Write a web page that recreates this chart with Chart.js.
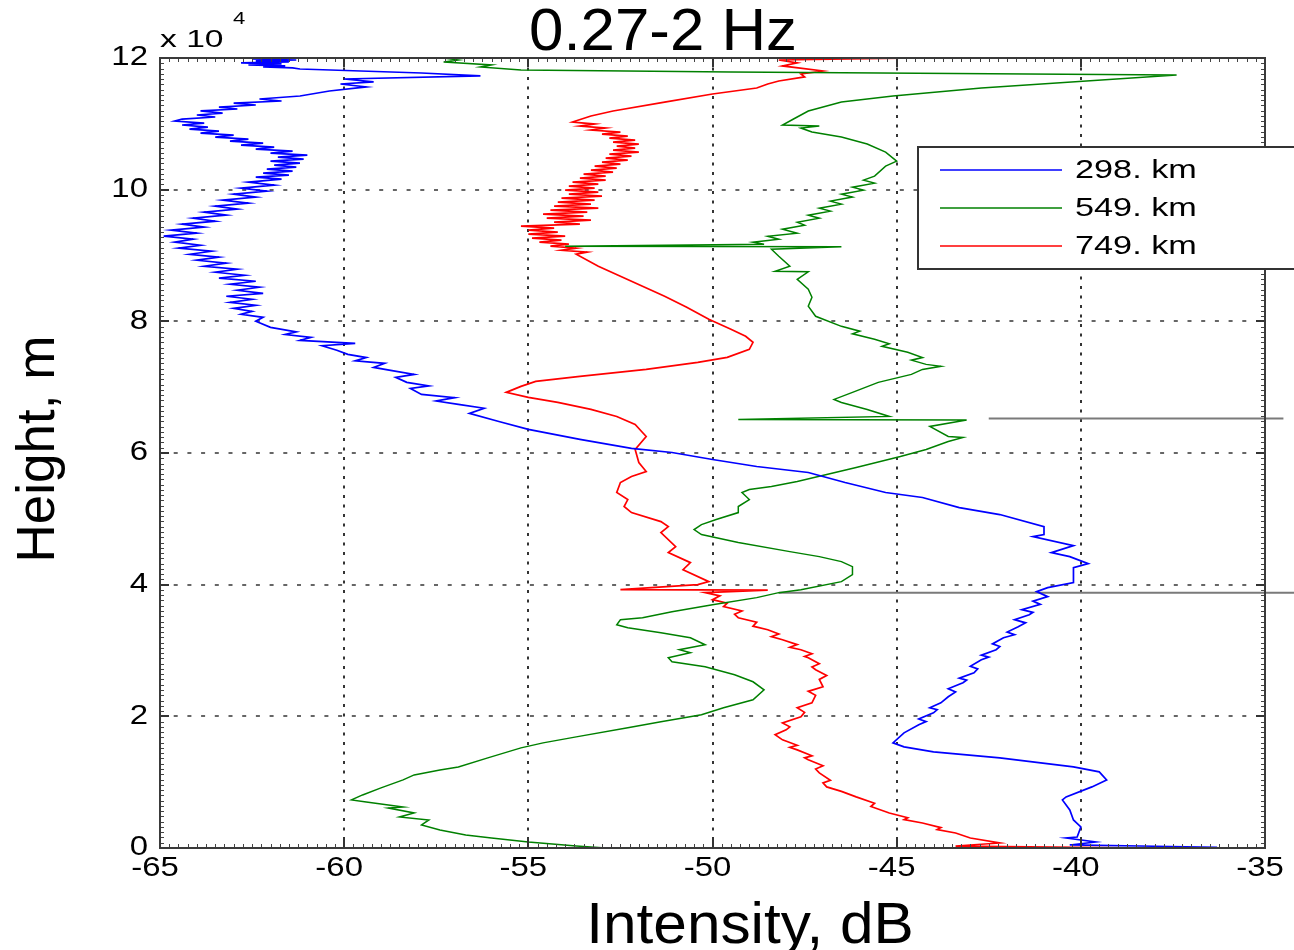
<!DOCTYPE html>
<html>
<head>
<meta charset="utf-8">
<title>0.27-2 Hz</title>
<script src="https://cdn.jsdelivr.net/npm/chart.js@4/dist/chart.umd.min.js"></script>
<style>
  html, body { margin: 0; padding: 0; background: #fff; }
</style>
</head>
<body>
<canvas id="chart" width="1294" height="950"></canvas>
<script>
const titleText = "0.27-2 Hz"
const xLabel = "Intensity, dB"
const yLabel = "Height, m"
const xTicks = [-65, -60, -55, -50, -45, -40, -35]
const yTicks = [0, 20000, 40000, 60000, 80000, 100000, 120000]
const seriesNames = ["298. km", "549. km", "749. km"]
const seriesColors = ["#0000ff", "#008000", "#ff0000"]

// [intensity dB, height m] from top to bottom
const km298 = [
  [-61.4,120000],[-62.5,119850],[-61.3,119700],[-62.4,119550],[-61.5,119400],[-62.8,119250],[-61.7,119100],
  [-62.6,118940],[-61.6,118790],[-62.2,118640],[-61.4,118490],[-61.2,118330],
  [-57.9,117720],[-56.3,117270],[-60.0,116810],[-59.2,116360],[-60.1,116050],[-59.4,115600],[-60.4,114990],
  [-61.2,114230],[-62.3,113770],[-61.7,113470],[-63.0,113160],[-62.4,112860],[-63.4,112550],[-62.9,112250],
  [-63.9,111960],[-63.3,111640],[-64.0,111340],[-63.5,111040],[-64.4,110730],[-64.6,110420],[-63.8,110120],
  [-64.4,109820],[-63.7,109510],[-64.2,109210],[-63.4,108900],[-63.9,108600],[-63.0,108290],[-63.5,107990],
  [-62.6,107690],[-63.1,107380],[-62.2,107080],[-62.8,106770],[-61.9,106470],[-62.4,106170],[-61.4,105860],
  [-62.0,105560],[-61.0,105250],[-61.8,104950],[-61.1,104650],[-62.0,104340],[-61.2,104040],[-61.9,103730],
  [-61.3,103430],[-62.1,103120],[-61.4,102820],[-62.2,102520],[-61.5,102210],[-62.4,101910],[-61.7,101600],
  [-62.6,101150],[-61.9,100690],[-62.8,100240],[-62.1,99780],[-63.0,99320],[-62.4,98870],[-63.3,98410],
  [-62.6,97950],[-63.5,97500],[-62.9,97040],[-63.8,96580],[-63.2,96130],[-64.1,95670],[-63.5,95210],
  [-64.4,94760],[-63.8,94300],[-64.7,93850],[-64.0,93390],[-64.9,92930],[-64.1,92480],[-64.6,92020],
  [-63.9,91560],[-64.5,91110],[-63.6,90650],[-64.2,90190],[-63.4,89740],[-64.0,89280],[-63.2,88830],
  [-63.8,88370],[-62.9,87910],[-63.5,87460],[-62.7,87000],[-63.4,86550],[-62.4,86090],[-63.1,85630],
  [-62.3,85180],[-62.9,84720],[-62.2,84260],[-63.2,83810],[-62.5,83350],[-63.1,82890],[-62.4,82440],
  [-63.0,81980],[-62.5,81520],[-62.8,81070],[-62.2,80610],[-62.4,80010],
  [-62.0,79090],[-61.3,78400],[-61.6,78000],[-60.9,77570],[-61.2,77100],[-59.7,76660],[-60.6,76300],
  [-60.2,75600],[-59.9,74990],[-59.4,74500],[-59.7,74000],[-58.9,73620],[-59.2,73000],[-58.7,72500],
  [-58.1,71940],[-58.6,71500],[-58.3,70730],[-57.7,70200],[-58.2,69800],[-57.9,68900],[-57.0,68400],
  [-57.5,67900],[-56.9,67380],[-56.2,66800],[-56.6,66010],[-55.8,64790],[-55.0,63580],[-53.6,62060],
  [-52.2,60690],[-51.1,60080],
  [-50.0,59010],[-48.8,57950],[-47.4,57040],[-46.4,55520],[-45.3,54000],[-44.3,53240],[-43.3,51710],
  [-42.2,50650],[-41.0,48820],[-41.0,47610],[-41.3,47300],[-40.2,45930],[-40.8,44870],[-40.3,44260],
  [-39.8,43200],[-40.2,42590],[-40.2,41220],[-40.2,40310],[-40.9,39550],[-41.2,38940],[-40.9,38180],
  [-41.3,37500],[-41.1,37000],[-41.6,36200],[-41.3,35800],[-41.4,35440],[-41.8,34680],[-41.5,34200],
  [-41.7,33610],[-42.0,32800],[-41.8,32400],[-42.1,31940],[-42.4,31000],[-42.2,30600],[-42.3,30120],
  [-42.7,29300],[-42.5,29000],[-42.7,28590],[-43.0,27600],[-42.8,27200],[-42.9,26620],[-43.3,25800],
  [-43.1,25500],[-43.2,25100],[-43.6,24200],[-43.4,23700],[-43.6,22970],[-43.8,22050],[-44.1,21300],
  [-43.9,21000],[-44.0,20530],[-44.4,19600],[-44.2,19200],[-44.4,18710],[-44.8,17490],
  [-45.1,15970],[-44.8,15360],[-44.0,14600],[-42.2,13690],[-40.2,12320],[-39.5,11560],[-39.3,10340],
  [-39.7,9280],[-40.4,7760],[-40.5,7300],[-40.3,5780],[-40.2,4260],[-40.0,3190],[-40.1,1670],
  [-40.4,1520],[-39.6,910],[-40.3,460],[-38.4,300],[-36.3,100]
]

const km549 = [
  [-57.3,120000],[-56.9,119700],[-57.3,119400],[-56.0,118940],[-56.3,118640],[-55.2,118180],[-49.5,117880],
  [-37.4,117420],[-42.7,115440],[-45.1,114230],[-46.5,113310],[-47.4,111950],[-47.8,110730],[-48.1,109820],
  [-47.1,109660],[-47.6,109360],[-47.3,108750],[-46.5,107990],[-45.8,106930],[-45.3,105710],[-45.0,104340],
  [-45.3,103580],[-45.6,102060],[-45.9,101450],[-45.6,100990],[-46.2,100380],[-45.9,99930],[-46.5,99320],
  [-46.2,98870],[-46.8,98260],[-46.5,97800],[-47.1,97190],[-46.8,96740],[-47.4,96130],[-47.1,95670],
  [-47.7,95060],[-47.5,94610],[-48.1,94000],[-47.7,93390],[-48.5,92930],[-48.2,92480],[-48.9,92020],
  [-48.6,91720],[-54.0,91410],[-46.5,91340],[-48.4,90960],[-48.2,89890],[-47.9,88370],[-48.3,87610],
  [-47.4,87530],[-47.7,86390],[-47.4,84870],[-47.3,83660],[-47.4,82290],[-47.2,80770],[-46.5,79240],
  [-46.0,78500],[-46.2,78100],[-45.6,77270],[-45.2,76600],[-45.4,76200],[-44.7,75290],[-44.3,74500],
  [-44.6,74100],[-44.2,73460],[-43.8,73160],[-44.3,72700],[-44.6,71940],[-45.5,70730],[-46.2,69210],
  [-46.7,68140],[-46.5,67680],[-45.8,66620],[-45.2,65550],[-49.3,65100],[-43.1,65020],[-44.1,64040],
  [-43.6,62510],[-43.2,62360],[-43.6,61750],[-44.2,60540],[-44.9,59470],[-46.1,57800],[-46.9,56730],
  [-47.7,55670],[-48.4,54910],[-49.0,54450],[-49.2,53990],[-49.0,52930],[-49.3,51870],[-49.3,50950],
  [-49.9,49890],[-50.3,49130],[-50.5,48370],[-50.3,47610],[-49.3,46390],[-47.9,45020],[-47.1,44260],
  [-46.5,43500],[-46.2,42740],[-46.2,41520],[-46.5,40460],[-47.6,39240],[-48.2,38790],[-48.8,38030],
  [-50.0,36960],[-51.1,35900],[-51.9,34980],[-52.5,34680],[-52.6,33920],[-52.3,33460],[-51.4,32700],
  [-50.6,31940],[-50.2,30880],[-50.9,30120],[-50.6,29660],[-51.2,28900],[-51.1,28290],[-50.2,27530],
  [-49.4,26310],[-48.9,25250],[-48.6,24030],[-48.9,22510],[-49.7,21290],[-50.3,20230],[-51.4,19160],
  [-52.3,18250],[-53.7,16880],[-54.6,15970],[-55.2,15210],[-56.1,13690],[-56.9,12320],[-57.4,11860],
  [-58.1,11100],[-58.4,10340],[-59.0,9130],[-59.5,8060],[-59.8,7300],[-59.4,7000],[-58.8,6540],
  [-58.4,6240],[-58.8,6080],[-58.1,5320],[-58.5,4720],[-57.7,4260],[-57.9,3500],[-57.4,2740],
  [-56.7,1980],[-56.0,1520],[-55.0,910],[-53.7,300],[-52.9,0]
]

const km749 = [
  [-44.4,120000],[-48.2,119700],[-47.7,119250],[-48.1,118790],[-47.0,118030],[-47.6,117570],[-47.5,117120],
  [-48.2,116510],[-48.5,116050],[-48.8,115440],[-50.0,114530],[-51.3,113310],[-52.7,111950],[-53.3,111190],
  [-53.8,110270],[-53.2,109970],[-53.6,109660],[-52.9,109360],[-53.3,109060],[-52.5,108750],[-53.0,108450],
  [-52.3,108140],[-52.8,107840],[-52.1,107530],[-52.7,107230],[-52.0,106930],[-52.6,106620],[-52.1,106320],
  [-52.7,106010],[-52.0,105710],[-52.8,105410],[-52.2,105100],[-52.9,104800],[-52.3,104490],[-53.0,104190],
  [-52.5,103880],[-53.2,103580],[-52.6,103280],[-53.3,102970],[-52.7,102670],[-53.5,102360],[-52.9,102060],
  [-53.6,101760],[-52.9,101450],[-53.8,101150],[-53.1,100840],[-53.9,100540],[-53.2,100230],[-54.0,99930],
  [-53.1,99630],[-53.9,99320],[-53.0,99020],[-54.1,98710],[-53.2,98410],[-54.2,98100],[-53.3,97800],
  [-54.3,97500],[-53.1,97190],[-54.4,96890],[-53.4,96580],[-54.6,96280],[-53.5,95980],[-54.5,95670],
  [-53.3,95370],[-54.3,95060],[-53.6,94760],[-55.2,94450],[-54.3,94150],[-55.0,93850],[-54.2,93540],
  [-55.0,93240],[-54.0,92930],[-54.9,92630],[-54.1,92330],[-54.7,92020],[-53.9,91720],[-54.4,91410],
  [-53.7,91110],[-54.1,90800],[-53.4,90500],[-53.7,90200],
  [-53.1,88370],[-52.5,86850],[-51.9,85330],[-51.3,83810],[-50.7,82130],[-50.1,80310],[-49.5,78790],
  [-49.1,77720],[-48.9,76810],[-49.0,75750],[-49.6,74530],[-50.4,73770],[-51.8,72700],[-53.6,71640],
  [-54.8,70880],[-55.2,70120],[-55.6,69210],[-55.0,68450],[-54.2,67680],[-53.3,66620],[-52.6,65550],
  [-52.1,64340],[-51.9,63120],[-51.8,62510],[-52.1,60540],[-52.0,58560],[-51.8,57190],[-52.2,56430],
  [-52.5,55520],[-52.6,54000],[-52.3,52930],[-52.4,51870],[-52.2,50950],[-51.4,49580],[-51.2,48820],
  [-51.4,47910],[-51.0,45780],[-51.2,44870],[-50.6,43350],[-50.8,42280],[-50.1,40460],[-50.4,40000],
  [-52.5,39240],[-48.5,39170],[-50.2,38790],[-49.8,38300],[-50.0,37720],[-49.6,37200],[-49.7,36660],
  [-49.2,36000],[-49.4,35500],[-49.3,34980],[-48.8,34300],[-48.9,33700],[-48.5,33160],[-48.2,32500],
  [-48.4,32100],[-48.1,31640],[-47.7,30900],[-47.9,30500],[-47.6,30120],[-47.3,29500],[-47.5,29100],
  [-47.4,28900],[-47.1,28000],[-47.3,27500],[-47.2,27070],[-46.9,26200],[-47.1,25600],[-47.0,24490],
  [-47.4,23800],[-47.2,23200],[-47.3,22050],[-47.7,21300],[-47.5,20600],[-47.6,19920],[-48.1,19000],
  [-47.9,18400],[-48.0,17950],[-48.3,17200],[-48.1,16430],[-47.7,15600],[-47.9,15300],[-47.7,14910],
  [-47.3,14000],[-47.5,13700],[-47.4,13390],[-47.0,12500],[-47.2,12000],[-47.1,11410],[-46.8,10300],
  [-47.0,9900],[-46.9,9280],[-46.5,8600],[-46.1,7760],[-45.6,6800],[-45.7,6300],[-45.2,5320],
  [-44.7,4600],[-44.8,4300],[-44.3,3800],[-43.8,3100],[-43.9,2800],[-43.4,2280],[-43.0,1520],
  [-42.2,760],[-43.4,300],[-38.1,0]
]

// leftovers of the neighbouring panel that overlap this one
const strayLines = [
  [[-42.5, 65250], [-34.5, 65250]],
  [[-48.2, 38790], [-34.2, 38790]]
]
const strayMarkX = -34.33
const strayMarkHeights = [60080, 53390, 48980, 42740, 36500, 32700]

function toPoints(list) {
  return list.map(p => ({ x: p[0], y: p[1] }))
}

function stretchText(ctx, text, x, y, sx, align) {
  ctx.save()
  ctx.translate(x, y)
  ctx.scale(sx, 1)
  ctx.textAlign = align
  ctx.fillText(text, 0, 0)
  ctx.restore()
}

const matlabAxes = {
  id: "matlabAxes",
  beforeDatasetsDraw(chart) {
    const { ctx, chartArea: a, scales: { x, y } } = chart
    ctx.save()
    ctx.lineWidth = 2
    ctx.strokeStyle = "#333"
    ctx.setLineDash([3, 6.5])
    xTicks.slice(1, -1).forEach(v => {
      const px = Math.round(x.getPixelForValue(v))
      ctx.beginPath()
      ctx.moveTo(px, a.top)
      ctx.lineTo(px, a.bottom)
      ctx.stroke()
    })
    ctx.strokeStyle = "#666"
    ctx.setLineDash([4, 9.7])
    yTicks.slice(1, -1).forEach(v => {
      const py = Math.round(y.getPixelForValue(v))
      ctx.beginPath()
      ctx.moveTo(a.left, py)
      ctx.lineTo(a.right, py)
      ctx.stroke()
    })
    ctx.restore()
  },
  afterDraw(chart) {
    const { ctx, chartArea: a, scales: { x, y } } = chart
    ctx.save()

    // minor ticks
    ctx.strokeStyle = "#444"
    ctx.lineWidth = 1
    ctx.beginPath()
    for (let v = -65; v <= -35 + 1e-9; v += 0.25) {
      const px = Math.round(x.getPixelForValue(v)) + 0.5
      ctx.moveTo(px, a.bottom); ctx.lineTo(px, a.bottom - 4)
      ctx.moveTo(px, a.top); ctx.lineTo(px, a.top + 4)
    }
    for (let v = 0; v <= 120000; v += 800) {
      const py = Math.round(y.getPixelForValue(v)) + 0.5
      ctx.moveTo(a.left, py); ctx.lineTo(a.left + 4, py)
      ctx.moveTo(a.right, py); ctx.lineTo(a.right - 4, py)
    }
    ctx.stroke()

    // major ticks
    ctx.strokeStyle = "#333"
    ctx.lineWidth = 2
    ctx.beginPath()
    xTicks.forEach(v => {
      const px = Math.round(x.getPixelForValue(v))
      ctx.moveTo(px, a.bottom); ctx.lineTo(px, a.bottom - 9)
      ctx.moveTo(px, a.top); ctx.lineTo(px, a.top + 9)
    })
    yTicks.forEach(v => {
      const py = Math.round(y.getPixelForValue(v))
      ctx.moveTo(a.left, py); ctx.lineTo(a.left + 9, py)
      ctx.moveTo(a.right, py); ctx.lineTo(a.right - 9, py)
    })
    ctx.stroke()

    // box
    ctx.strokeStyle = "#3a3a3a"
    ctx.lineWidth = 2
    ctx.strokeRect(a.left, a.top, a.right - a.left, a.bottom - a.top)

    // tick labels
    ctx.fillStyle = "#000"
    ctx.font = '27px "Liberation Sans", Arial, sans-serif'
    ctx.textBaseline = "middle"
    xTicks.forEach(v => stretchText(ctx, String(v), x.getPixelForValue(v) - 5, a.bottom + 21, 1.22, "center"))
    yTicks.forEach(v => stretchText(ctx, String(v / 10000), a.left - 12, y.getPixelForValue(v), 1.22, "right"))

    // exponent
    ctx.textBaseline = "alphabetic"
    ctx.font = '24px "Liberation Sans", Arial, sans-serif'
    stretchText(ctx, "x 10", a.left, a.top - 11, 1.4, "left")
    ctx.font = '17px "Liberation Sans", Arial, sans-serif'
    stretchText(ctx, "4", a.left + 73, a.top - 34, 1.3, "left")

    // title and axis labels
    ctx.font = '60px "Liberation Sans", Arial, sans-serif'
    stretchText(ctx, titleText, 663, 50, 1.03, "center")
    ctx.font = '58px "Liberation Sans", Arial, sans-serif'
    stretchText(ctx, xLabel, 750, 943, 1.04, "center")
    ctx.save()
    ctx.font = '53px "Liberation Sans", Arial, sans-serif'
    ctx.translate(54, 449)
    ctx.rotate(-Math.PI / 2)
    ctx.textAlign = "center"
    ctx.fillText(yLabel, 0, 0)
    ctx.restore()

    // legend
    ctx.fillStyle = "#fff"
    ctx.fillRect(918, 147, 420, 122)
    ctx.strokeStyle = "#333"
    ctx.lineWidth = 2
    ctx.strokeRect(918, 147, 420, 122)
    ctx.font = '25px "Liberation Sans", Arial, sans-serif'
    ctx.textBaseline = "middle"
    seriesNames.forEach((name, i) => {
      const ly = 170 + i * 38
      ctx.strokeStyle = seriesColors[i]
      ctx.lineWidth = 1.5
      ctx.beginPath()
      ctx.moveTo(940, ly)
      ctx.lineTo(1062, ly)
      ctx.stroke()
      ctx.fillStyle = "#000"
      stretchText(ctx, name, 1075, ly + 1, 1.37, "left")
    })

    ctx.restore()
  }
}

function buildDatasets() {
  var sets = [km298, km549, km749].map((list, i) => ({
    label: seriesNames[i],
    data: toPoints(list),
    showLine: true,
    borderColor: seriesColors[i],
    backgroundColor: seriesColors[i],
    borderWidth: i === 1 ? 1.5 : 1.7,
    pointRadius: 0,
    fill: false,
    tension: 0
  }))

  strayLines.forEach(line => {
    sets.push({
      label: "",
      data: toPoints(line),
      showLine: true,
      borderColor: "#7a7a7a",
      borderWidth: 2,
      pointRadius: 0,
      clip: false
    })
  })

  sets.push({
    label: "",
    data: strayMarkHeights.map(h => ({ x: strayMarkX, y: h })),
    showLine: false,
    pointStyle: "line",
    pointRadius: 5,
    borderColor: "#222",
    borderWidth: 3,
    clip: false
  })
  return sets
}

var ctx = document.getElementById("chart").getContext("2d")
new Chart(ctx, {
  type: "scatter",
  data: { datasets: buildDatasets() },
  options: {
    responsive: false,
    animation: false,
    layout: { padding: { left: 160, right: 29, top: 58, bottom: 102 } },
    plugins: {
      legend: { display: false },
      title: { display: false },
      tooltip: { enabled: false }
    },
    scales: {
      x: { type: "linear", min: -65, max: -35, display: false },
      y: { type: "linear", min: 0, max: 120000, display: false }
    }
  },
  plugins: [matlabAxes]
})
</script>
</body>
</html>
